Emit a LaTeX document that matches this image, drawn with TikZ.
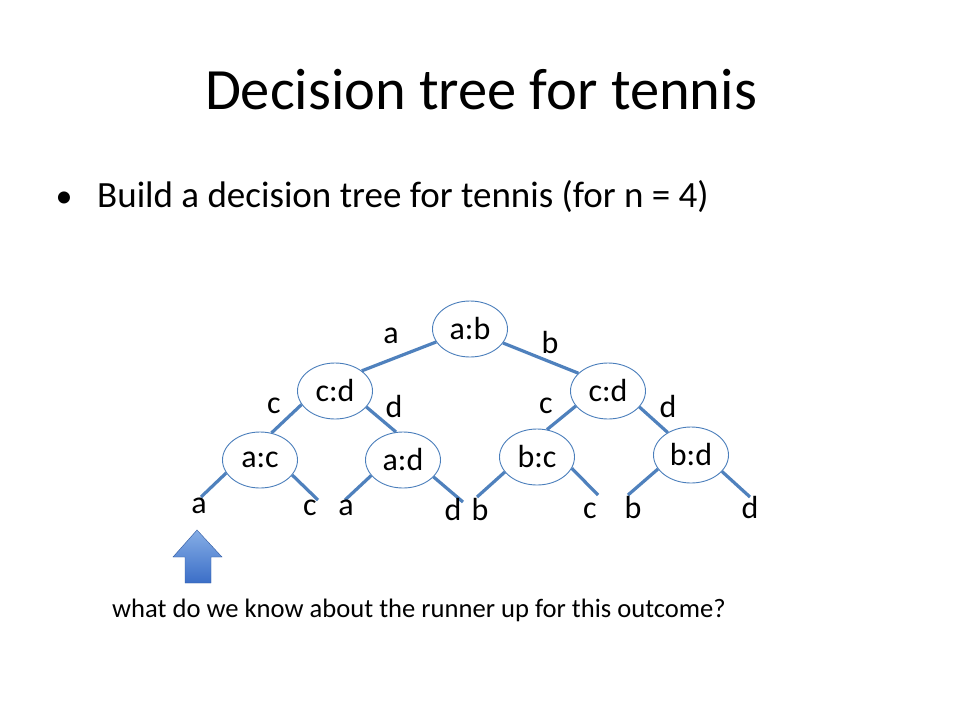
\documentclass[tikz,border=0pt]{standalone}
\usepackage{fontspec}
\setmainfont{Carlito}
\usetikzlibrary{shapes.geometric}
\definecolor{edgeblue}{HTML}{4F81BD}
\definecolor{ellblue}{HTML}{4A7EBB}
\definecolor{arrtop}{HTML}{86AEE6}
\definecolor{arrbot}{HTML}{3B6EC7}
\tikzset{
  tnode/.style={ellipse, draw=ellblue, line width=0.9pt, fill=white, minimum width=75pt, minimum height=56pt, inner sep=0pt, font=\fontsize{32}{36}\selectfont},
  edge/.style={draw=edgeblue, line width=3.2pt},
  lbl/.style={anchor=base, inner sep=0pt, font=\fontsize{32}{36}\selectfont},
}
\begin{document}
\begin{tikzpicture}[x=1pt,y=-1pt]
\useasboundingbox (0,0) rectangle (960,720);
\fill[white] (0,0) rectangle (960,720);
% title and texts
\node[anchor=base, inner sep=0pt, font=\fontsize{58.5}{64}\selectfont] (title) at (481,109) {Decision tree for tennis};
\node[anchor=base, inner sep=0pt, font=\fontsize{34}{40}\selectfont] (bul) at (64,207) {•};
\node[anchor=base west, inner sep=0pt, font=\fontsize{37}{42}\selectfont] (btext) at (97,207) {Build a decision tree for tennis (for n = 4)};
\node[anchor=base west, inner sep=0pt, font=\fontsize{26.6}{30}\selectfont] (q) at (112,617) {what do we know about the runner up for this outcome?};
% tree nodes
\node[tnode] (ab) at (470,329) {a:b};
\node[tnode] (cdL) at (335,391) {c:d};
\node[tnode] (cdR) at (608,391) {c:d};
\node[tnode] (ac) at (260,460) {a:c};
\node[tnode] (ad) at (403,460) {a:d};
\node[tnode] (bc) at (537,457) {b:c};
\node[tnode] (bd) at (691,455) {b:d};
% leaf end points
\coordinate (l1) at (201,497);
\coordinate (l2) at (318,500);
\coordinate (l3) at (345,500);
\coordinate (l4) at (463,502);
\coordinate (l5) at (477,497);
\coordinate (l6) at (598,495);
\coordinate (l7) at (628,495);
\coordinate (l8) at (750,497);
% edges
\draw[edge] (ab.201) -- (cdL.37);
\draw[edge] (ab.337) -- (cdR.149);
\draw[edge] (cdL.202) -- (ac.67);
\draw[edge] (cdL.333) -- (ad.104);
\draw[edge] (cdR.205) -- (bc.70);
\draw[edge] (cdR.333) -- (bd.136);
\draw[edge] (ac.201) -- (l1);
\draw[edge] (ac.335) -- (l2);
\draw[edge] (ad.206) -- (l3);
\draw[edge] (ad.331) -- (l4);
\draw[edge] (bc.205) -- (l5);
\draw[edge] (bc.342) -- (l6);
\draw[edge] (bd.203) -- (l7);
\draw[edge] (bd.332) -- (l8);
% edge labels
\node[lbl] (ea) at (391,343) {a};
\node[lbl] (eb) at (550,353) {b};
\node[lbl] (ec1) at (274,413) {c};
\node[lbl] (ed1) at (394,417) {d};
\node[lbl] (ec2) at (546,413) {c};
\node[lbl] (ed2) at (668,417) {d};
% leaf labels
\node[lbl] (t1) at (199,513) {a};
\node[lbl] (t2) at (310,515) {c};
\node[lbl] (t3) at (346,515) {a};
\node[lbl] (t4) at (453,520) {d};
\node[lbl] (t5) at (480,520) {b};
\node[lbl] (t6) at (590,518) {c};
\node[lbl] (t7) at (633,518) {b};
\node[lbl] (t8) at (750,518) {d};
% arrow
\shade[top color=arrtop, bottom color=arrbot, draw=arrbot!80!black, line width=0.4pt]
  (197,530) -- (222,557) -- (211,557) -- (211,583) -- (185,583) -- (185,557) -- (173,557) -- cycle;
\end{tikzpicture}
\end{document}
